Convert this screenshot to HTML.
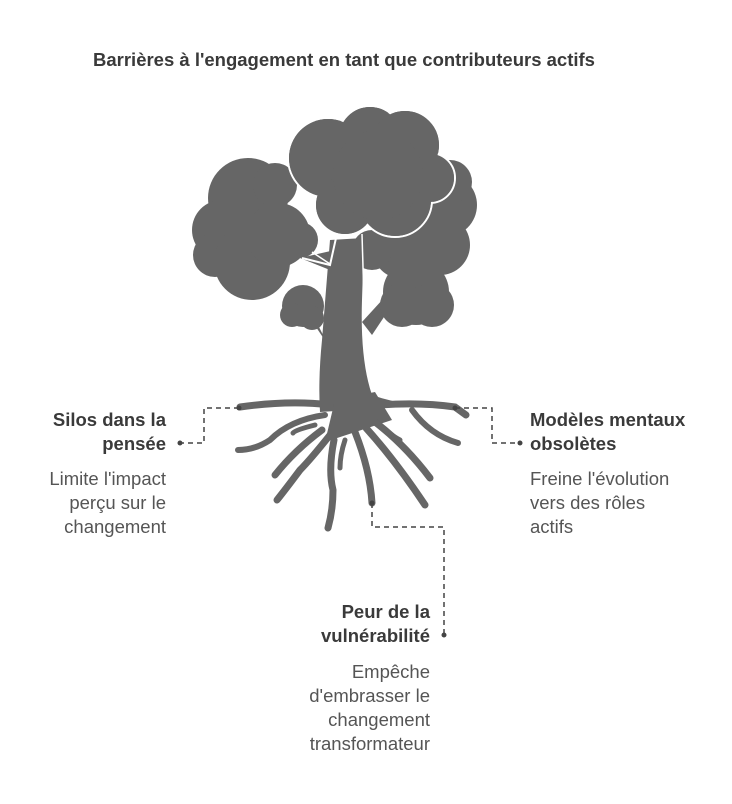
<!DOCTYPE html>
<html><head><meta charset="utf-8"><style>
body{margin:0;background:#fff;width:732px;height:804px;overflow:hidden;font-family:"Liberation Sans",Arial,sans-serif;}
.t{position:absolute;font-size:18.5px;line-height:24px;white-space:nowrap;}
.b{font-weight:bold;color:#3a3a3a;}
.n{color:#555;}
.r{text-align:right;}
</style></head><body>
<div class="t b" style="left:93px;top:48px;">Barrières à l'engagement en tant que contributeurs actifs</div>
<svg width="732" height="804" style="position:absolute;left:0;top:0">
<g fill="#666">
<!-- left cloud -->
<circle cx="248" cy="198" r="40"/><circle cx="222" cy="230" r="30"/><circle cx="215" cy="255" r="22"/><circle cx="252" cy="262" r="38"/><circle cx="278" cy="235" r="32"/><circle cx="275" cy="185" r="22"/><circle cx="300" cy="240" r="18"/>
<!-- right back cloud -->
<circle cx="445" cy="205" r="32"/><circle cx="440" cy="245" r="30"/><circle cx="400" cy="252" r="26"/><circle cx="450" cy="182" r="22"/><circle cx="372" cy="250" r="20"/>
<!-- trunk -->
<path d="M330 240 L364 238 L362 300 Q360 360 372 395 Q400 405 430 405 L320 412 Q318 380 322 340 Q326 290 330 240Z"/>
<path d="M335 400 L375 392 L392 420 L325 442 Z"/>
<path d="M318 325 L328 345 L308 315Z"/>
<path d="M362 322 L372 335 L392 305 L384 298Z"/>
<path d="M300 258 L335 250 L330 270Z"/>
<!-- small clouds -->
<circle cx="303" cy="306" r="21"/><circle cx="292" cy="315" r="12"/><circle cx="312" cy="318" r="12"/>
<circle cx="416" cy="292" r="33"/><circle cx="402" cy="305" r="22"/><circle cx="432" cy="305" r="22"/>
<!-- top cloud -->
<g stroke="#fff" stroke-width="2">
<circle cx="328" cy="158" r="40"/><circle cx="370" cy="138" r="32"/><circle cx="405" cy="145" r="35"/><circle cx="430" cy="178" r="25"/><circle cx="345" cy="205" r="30"/><circle cx="395" cy="200" r="37"/>
</g>
<g stroke="none">
<circle cx="328" cy="158" r="39"/><circle cx="370" cy="138" r="31"/><circle cx="405" cy="145" r="34"/><circle cx="430" cy="178" r="24"/><circle cx="345" cy="205" r="29"/><circle cx="395" cy="200" r="36"/><circle cx="378" cy="175" r="45"/>
</g>
<path d="M302 258 L330 265 L336 238" fill="none" stroke="#fff" stroke-width="2"/>
<path d="M312 252 L330 264" fill="none" stroke="#fff" stroke-width="1.5"/>
<path d="M362 234 L364 300" fill="none" stroke="#fff" stroke-width="1.5"/>
</g>
<!-- roots -->
<g fill="none" stroke="#666" stroke-linecap="round">
<path d="M330 405 Q290 400 240 407" stroke-width="7"/>
<path d="M325 415 Q290 420 270 440 Q255 450 238 450" stroke-width="6"/>
<path d="M315 425 Q295 430 293 433" stroke-width="5"/>
<path d="M322 430 Q295 450 275 475" stroke-width="7"/>
<path d="M330 435 Q310 460 300 470 Q285 490 277 500" stroke-width="7"/>
<path d="M334 440 Q328 470 333 490 Q333 510 328 528" stroke-width="7"/>
<path d="M345 440 Q340 455 340 468" stroke-width="5"/>
<path d="M355 432 Q370 470 372 503" stroke-width="7"/>
<path d="M366 428 Q395 460 425 505" stroke-width="7"/>
<path d="M375 422 Q405 445 430 478" stroke-width="7"/>
<path d="M372 418 Q390 435 400 440" stroke-width="5"/>
<path d="M380 405 Q420 402 455 407 L466 415" stroke-width="7"/>
<path d="M412 410 Q430 435 458 443" stroke-width="6"/>
</g>
<!-- connectors -->
<g fill="none" stroke="#444" stroke-width="1.5" stroke-dasharray="5,4">
<path d="M239 408 H204 V443 H180"/>
<path d="M455 408 H492 V443 H520"/>
<path d="M372 503 V527 H444 V635"/>
</g>
<g fill="#444">
<circle cx="239" cy="408" r="2.5"/><circle cx="180" cy="443" r="2.5"/>
<circle cx="455" cy="408" r="2.5"/><circle cx="520" cy="443" r="2.5"/>
<circle cx="372" cy="503" r="2.5"/><circle cx="444" cy="635" r="2.5"/>
</g>
</svg>
<div class="t b r" style="right:566px;top:408px;">Silos dans la<br>pensée</div>
<div class="t n r" style="right:566px;top:467px;">Limite l'impact<br>perçu sur le<br>changement</div>
<div class="t b" style="left:530px;top:408px;">Modèles mentaux<br>obsolètes</div>
<div class="t n" style="left:530px;top:467px;">Freine l'évolution<br>vers des rôles<br>actifs</div>
<div class="t b r" style="right:302px;top:600px;">Peur de la<br>vulnérabilité</div>
<div class="t n r" style="right:302px;top:660px;">Empêche<br>d'embrasser le<br>changement<br>transformateur</div>
</body></html>
